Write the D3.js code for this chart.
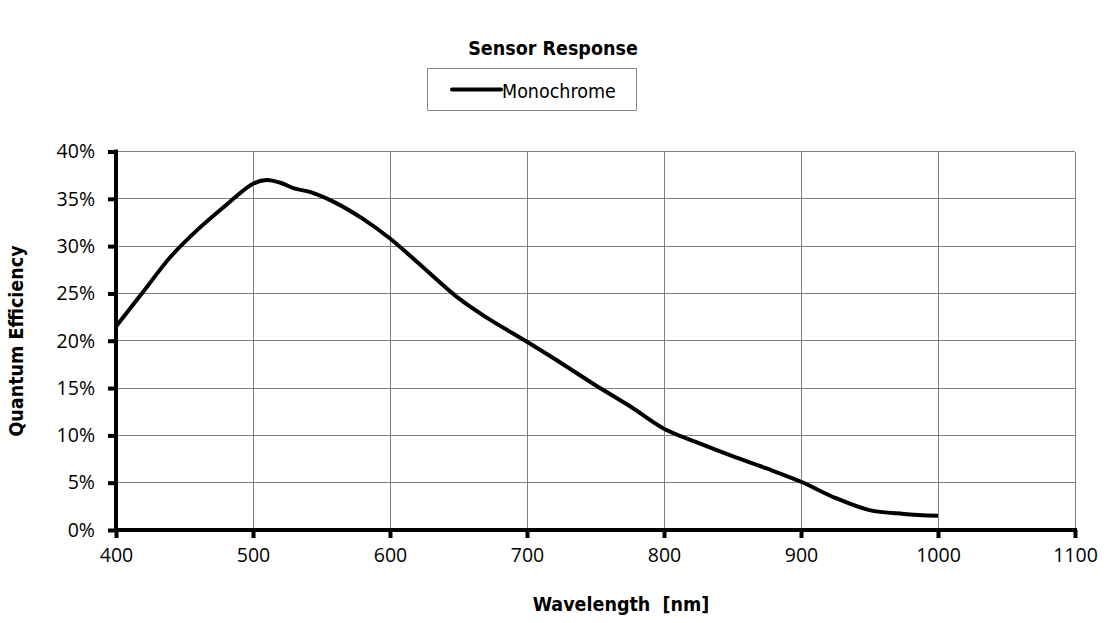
<!DOCTYPE html>
<html><head><meta charset="utf-8">
<script src="https://cdn.jsdelivr.net/npm/d3@7"></script>
<style>body{margin:0;background:#fff;}svg{display:block;}</style>
</head><body>
<svg id="c" width="1107" height="623"></svg>
<script>
const wavelength = [400,420,440,460,480,500,510,520,530,542,560,580,600,620,650,670,700,720,750,775,800,825,850,875,900,925,950,975,1000];
const qe = [21.5,25.2,28.9,31.8,34.3,36.6,37.0,36.7,36.1,35.7,34.6,32.9,30.8,28.3,24.5,22.5,19.9,18.1,15.3,13.1,10.7,9.2,7.8,6.5,5.1,3.4,2.1,1.7,1.5];
const xTicks = [400,500,600,700,800,900,1000,1100];
const yTicks = [0,5,10,15,20,25,30,35,40];
const seriesName = "Monochrome";

const svg = d3.select("#c");
const m = {l:116, r:1075, t:151.5, b:530};
const x = d3.scaleLinear().domain([400,1100]).range([m.l,m.r]);
const y = d3.scaleLinear().domain([0,40]).range([m.b,m.t]);
const tickFont = "'Open Sans', 'DejaVu Sans', sans-serif";
const boldFont = "'DejaVu Sans Condensed', 'DejaVu Sans', sans-serif";

// gridlines
svg.append("g").selectAll("line").data(yTicks.filter(d=>d>0)).join("line")
  .attr("x1",m.l).attr("x2",m.r).attr("y1",d=>y(d)).attr("y2",d=>y(d))
  .attr("stroke","#808080").attr("stroke-width",1).attr("shape-rendering","crispEdges");
svg.append("g").selectAll("line").data(xTicks.filter(d=>d>400)).join("line")
  .attr("y1",m.t).attr("y2",m.b).attr("x1",d=>x(d)).attr("x2",d=>x(d))
  .attr("stroke","#808080").attr("stroke-width",1).attr("shape-rendering","crispEdges");

// axes
const yAxis = svg.append("g").attr("transform",`translate(${m.l},0)`)
  .call(d3.axisLeft(y).tickValues(yTicks).tickFormat(d=>d+"%").tickSize(8).tickPadding(12));
const xAxis = svg.append("g").attr("transform",`translate(0,${m.b})`)
  .call(d3.axisBottom(x).tickValues(xTicks).tickFormat(d3.format("d")).tickSize(8).tickPadding(10));
[yAxis,xAxis].forEach(a=>{
  a.select(".domain").remove();
  a.selectAll(".tick line").attr("stroke","#000").attr("stroke-width",4);
  a.selectAll(".tick text").attr("font-family",tickFont).attr("font-size",19.5).attr("fill","#000");
});
yAxis.selectAll(".tick text").attr("x",-21);
svg.append("line").attr("x1",m.l).attr("x2",m.l).attr("y1",m.t-2).attr("y2",m.b+2)
  .attr("stroke","#000").attr("stroke-width",4);
svg.append("line").attr("x1",m.l-2).attr("x2",m.r+2).attr("y1",m.b).attr("y2",m.b)
  .attr("stroke","#000").attr("stroke-width",4);

// line
const line = d3.line().x((d,i)=>x(wavelength[i])).y(d=>y(d)).curve(d3.curveCatmullRom.alpha(0.5));
svg.append("path").datum(qe).attr("d",line).attr("fill","none")
  .attr("stroke","#000").attr("stroke-width",4).attr("stroke-linejoin","round");

// title
svg.append("text").attr("x",553).attr("y",55).attr("text-anchor","middle")
  .attr("font-family",boldFont).attr("font-weight","bold").attr("font-size",19.5).text("Sensor Response");

// legend
svg.append("rect").attr("x",427.5).attr("y",68.5).attr("width",209).attr("height",42)
  .attr("fill","#fff").attr("stroke","#888").attr("stroke-width",1);
svg.append("line").attr("x1",452).attr("x2",501).attr("y1",89.5).attr("y2",89.5)
  .attr("stroke","#000").attr("stroke-width",4).attr("stroke-linecap","round");
svg.append("text").attr("x",502).attr("y",97.5).attr("font-family",boldFont)
  .attr("font-size",19.5).text(seriesName);

// axis titles
svg.append("text").attr("x",621).attr("y",611).attr("text-anchor","middle")
  .attr("font-family",boldFont).attr("font-weight","bold").attr("font-size",19.5)
  .style("white-space","pre").text("Wavelength  [nm]");
svg.append("text").attr("transform","translate(23,341) rotate(-90)").attr("text-anchor","middle")
  .attr("font-family",boldFont).attr("font-weight","bold").attr("font-size",19.5).text("Quantum Efficiency");
</script>
</body></html>
